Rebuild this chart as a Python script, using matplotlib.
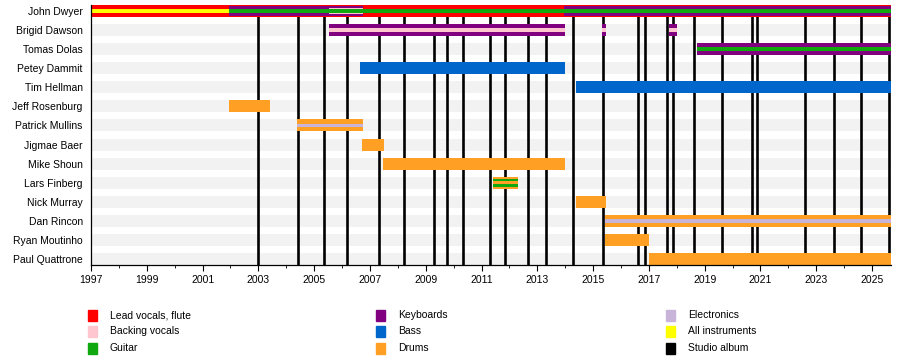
import numpy as np
import matplotlib
matplotlib.use("Agg")
import matplotlib.pyplot as plt
from matplotlib.patches import Rectangle
from matplotlib.ticker import MultipleLocator

plt.rcParams["font.family"] = ["Liberation Sans", "DejaVu Sans"]

# --- DATOS ---
START = 1997.0
END = 2025.68

members = ["John Dwyer", "Brigid Dawson", "Tomas Dolas", "Petey Dammit", "Tim Hellman",
           "Jeff Rosenburg", "Patrick Mullins", "Jigmae Baer", "Mike Shoun", "Lars Finberg",
           "Nick Murray", "Dan Rincon", "Ryan Moutinho", "Paul Quattrone"]

# cada miembro: capas de fuera hacia dentro, cada capa = [(rol, inicio, fin), ...]
timeline = {
    "John Dwyer": [
        [("Lead vocals, flute", 1997.0, END)],
        [("Keyboards", 2001.95, 2006.75), ("Keyboards", 2013.95, END)],
        [("Backing vocals", 2005.53, 2006.75)],
        [("All instruments", 1997.0, 2001.95), ("Guitar", 2001.95, END)],
    ],
    "Brigid Dawson": [
        [("Keyboards", 2005.53, 2013.99), ("Keyboards", 2015.32, 2015.48), ("Keyboards", 2017.73, 2018.0)],
        [("Backing vocals", 2005.53, 2013.99), ("Backing vocals", 2015.32, 2015.48),
         ("Backing vocals", 2017.73, 2018.0)],
    ],
    "Tomas Dolas": [
        [("Keyboards", 2018.71, END)],
        [("Guitar", 2018.71, END)],
    ],
    "Petey Dammit": [[("Bass", 2006.64, 2013.99)]],
    "Tim Hellman": [[("Bass", 2014.38, END)]],
    "Jeff Rosenburg": [[("Drums", 2001.95, 2003.42)]],
    "Patrick Mullins": [
        [("Drums", 2004.39, 2006.74)],
        [("Electronics", 2004.39, 2006.74)],
    ],
    "Jigmae Baer": [[("Drums", 2006.71, 2007.5)]],
    "Mike Shoun": [[("Drums", 2007.47, 2013.99)]],
    "Lars Finberg": [
        [("Drums", 2011.42, 2012.30)],
        [("Guitar", 2011.42, 2012.30)],
        [("Drums", 2011.42, 2012.30)],
    ],
    "Nick Murray": [[("Drums", 2014.38, 2015.45)]],
    "Dan Rincon": [
        [("Drums", 2015.43, END)],
        [("Electronics", 2015.43, END)],
    ],
    "Ryan Moutinho": [[("Drums", 2015.42, 2017.0)]],
    "Paul Quattrone": [[("Drums", 2017.0, END)]],
}

album_years = [2003.0, 2004.43, 2005.35, 2006.16, 2007.33, 2008.23, 2009.30, 2009.75,
               2010.34, 2011.30, 2011.84, 2012.67, 2013.30, 2014.29, 2015.36, 2016.62,
               2016.86, 2017.66, 2017.85, 2018.62, 2019.63, 2020.70, 2020.86, 2022.59,
               2023.64, 2024.60, 2025.61]

roles = ["Lead vocals, flute", "Backing vocals", "Guitar", "Keyboards", "Bass", "Drums",
         "Electronics", "All instruments", "Studio album"]
colores = {
    "Lead vocals, flute": "#ff0000",
    "Backing vocals": "#ffc6cf",
    "Guitar": "#0fa80f",
    "Keyboards": "#800080",
    "Bass": "#0066cc",
    "Drums": "#ffa024",
    "Electronics": "#c8b4d8",
    "All instruments": "#ffff00",
    "Studio album": "#000000",
}

# --- GRAFICO ---
BAR_H = 0.63
fig = plt.figure(figsize=(9, 3.6), dpi=100)
ax = fig.add_axes([91 / 900, 1 - 265 / 360, 800 / 900, 260 / 360])

filas = np.arange(len(members))
ax.barh(filas, END - START, left=START, height=BAR_H, color="#f2f2f2", zorder=1)

for x in album_years:
    ax.axvline(x, color="black", lw=1.9, zorder=2)

for i, m in enumerate(members):
    capas = timeline[m]
    alturas = np.linspace(1.0, 0.3, len(capas)) if len(capas) > 1 else [1.0]
    for capa, h in zip(capas, alturas):
        for rol, ini, fin in capa:
            ax.barh(i, fin - ini, left=ini, height=BAR_H * h, color=colores[rol],
                    lw=0, zorder=3)

ax.set_xlim(START, END)
ax.set_ylim(len(members) - 1 + BAR_H / 2, -BAR_H / 2)
ax.set_yticks(filas)
ax.set_yticklabels(members, fontsize=7.5)
ax.tick_params(axis="y", length=0, pad=6)
ax.xaxis.set_major_locator(MultipleLocator(2))
ax.xaxis.set_minor_locator(MultipleLocator(1))
ax.set_xticks(np.arange(1997, 2026, 2))
ax.tick_params(axis="x", which="major", length=4, labelsize=7.5, pad=3)
ax.tick_params(axis="x", which="minor", length=2.5)
for s in ["top", "right"]:
    ax.spines[s].set_visible(False)
for s in ["left", "bottom"]:
    ax.spines[s].set_linewidth(0.9)
    ax.spines[s].set_zorder(4)

# --- LEYENDA ---
col_x = [88, 376, 666]
fila_y = [315, 331, 348]
for k, rol in enumerate(roles):
    cx, fy = col_x[k // 3], fila_y[k % 3]
    fig.patches.append(Rectangle((cx / 900, 1 - (fy + 5.5) / 360), 9 / 900, 11 / 360,
                                 transform=fig.transFigure, color=colores[rol]))
    fig.text((cx + 22) / 900, 1 - fy / 360, rol, fontsize=7.5, va="center", ha="left")

fig.savefig("out.png", dpi=100)
